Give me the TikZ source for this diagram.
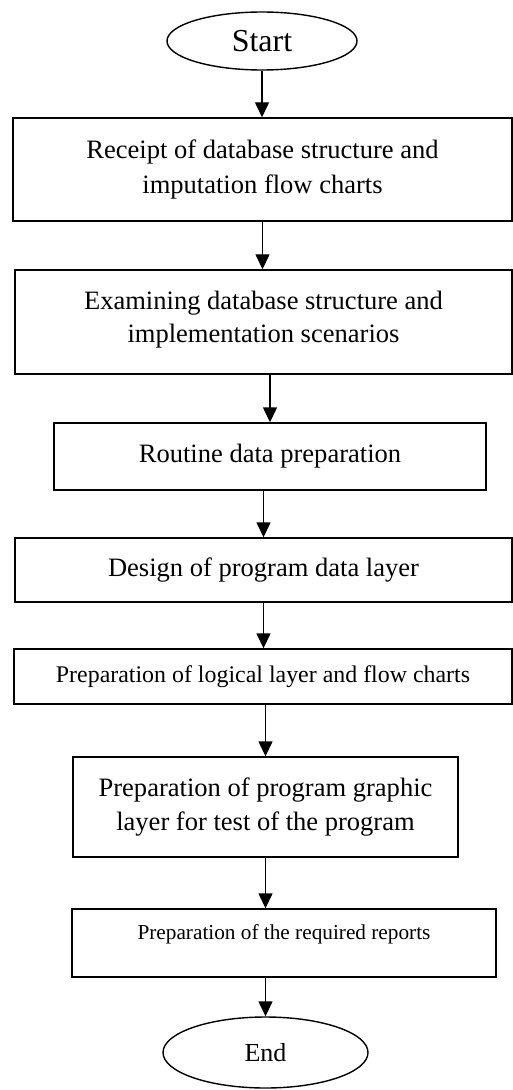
\documentclass[tikz,border=0pt]{standalone}
\usepackage{fontspec}
\setmainfont{Liberation Serif}
\usetikzlibrary{shapes.geometric,arrows.meta}
\tikzset{
  stepbox/.style={draw, line width=0.8pt, rectangle, align=center, inner sep=0pt, font=\fontsize{15.1}{19.9}\selectfont},
  term/.style={draw, line width=0.8pt, ellipse, inner sep=0pt},
  arr/.style={line width=0.8pt, -{Triangle[length=0.3cm,width=0.28cm]}}
}
\begin{document}
\begin{tikzpicture}
\useasboundingbox (0,0) rectangle (10.26,-21.8);
\node[term, minimum width=3.8cm, minimum height=1.16cm, font=\fontsize{18.2}{22}\selectfont] (start) at (5.24,-0.82) {Start};
\node[stepbox, minimum width=9.98cm, minimum height=2.06cm] (receipt) at (5.25,-3.39) {Receipt of database structure and\\imputation flow charts};
\node[stepbox, minimum width=9.94cm, minimum height=2.08cm, font=\fontsize{15.1}{18.4}\selectfont, text depth=6pt] (examine) at (5.27,-6.44) {Examining database structure and\\implementation scenarios};
\node[stepbox, minimum width=8.64cm, minimum height=1.34cm] (routine) at (5.40,-9.13) {Routine data preparation};
\node[stepbox, minimum width=9.94cm, minimum height=1.28cm] (design) at (5.27,-11.40) {Design of program data layer};
\node[stepbox, minimum width=9.96cm, minimum height=1.10cm, font=\fontsize{13.6}{17}\selectfont] (logical) at (5.26,-13.53) {Preparation of logical layer and flow charts};
\node[stepbox, minimum width=7.70cm, minimum height=2.00cm] (graphic) at (5.31,-16.14) {Preparation of program graphic\\layer for test of the program};
\node[stepbox, minimum width=8.48cm, minimum height=1.36cm, font=\fontsize{12.1}{15}\selectfont, text depth=13pt] (reports) at (5.68,-18.86) {Preparation of the required reports};
\node[term, minimum width=4.10cm, minimum height=1.42cm, font=\fontsize{14.8}{18}\selectfont] (end) at (5.31,-21.05) {End};

% connectors
\draw[arr] (start.south) -- (start.south |- receipt.north);
\draw[arr] (receipt.south) -- (receipt.south |- examine.north);
\draw[arr] (examine.south -| routine.north) -- (routine.north);
\draw[arr] (routine.south -| design.north) -- (design.north);
\draw[arr] (design.south) -- (design.south |- logical.north);
\draw[arr] (logical.south -| graphic.north) -- (graphic.north);
\draw[arr] (graphic.south) -- (graphic.south |- reports.north);
\draw[arr] (reports.south -| end.north) -- (end.north);
\end{tikzpicture}
\end{document}
